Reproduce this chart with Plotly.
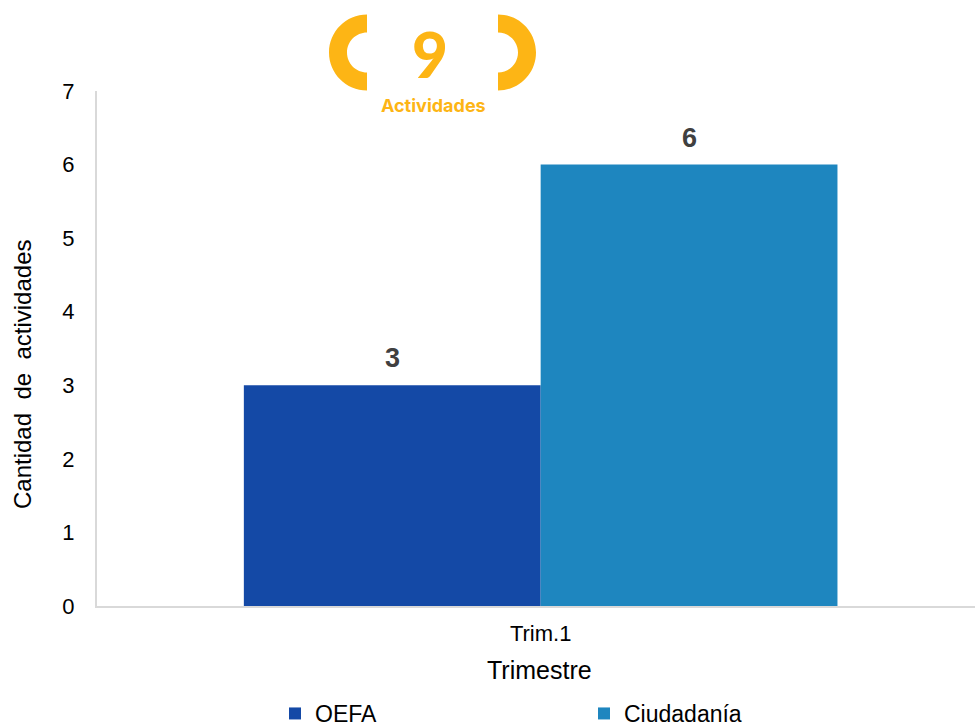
import plotly.graph_objects as go

W, H = 975, 726
L, R, T, B = 97, 975, 91, 606
BARGAP = 0.331

categories = ["Trim.1"]
series_names = ["OEFA", "Ciudadanía"]
oefa_values = [3]
ciudadania_values = [6]
bar_colors = ["#1449A6", "#1E86BF"]
total_label = "9"
total_caption = "Actividades"
x_title = "Trimestre"
y_title = "Cantidad  de  actividades"
ACCENT = "#FDB515"


def px(x):
    return (x - L) / (R - L)


def py(y):
    return (B - y) / (B - T)


def bracket(cx, cy, ro, ri, side):
    # half ring drawn with cubic Beziers, in paper coordinates
    k = 0.5523
    s = side
    def P(x, y):
        return f"{px(x):.5f},{py(y):.5f}"
    return (
        f"M {P(cx, cy - ro)} "
        f"C {P(cx + s*k*ro, cy - ro)} {P(cx + s*ro, cy - k*ro)} {P(cx + s*ro, cy)} "
        f"C {P(cx + s*ro, cy + k*ro)} {P(cx + s*k*ro, cy + ro)} {P(cx, cy + ro)} "
        f"L {P(cx, cy + ri)} "
        f"C {P(cx + s*k*ri, cy + ri)} {P(cx + s*ri, cy + k*ri)} {P(cx + s*ri, cy)} "
        f"C {P(cx + s*ri, cy - k*ri)} {P(cx + s*k*ri, cy - ri)} {P(cx, cy - ri)} Z"
    )


fig = go.Figure()
for name, vals, col in zip(series_names, [oefa_values, ciudadania_values], bar_colors):
    fig.add_bar(name=name, x=categories, y=vals, marker=dict(color=col, line_width=0))

# data labels sit well above the bars, further than a bar's own outside text
half_bar = (1 - BARGAP) / 4
value_labels = [
    dict(text=str(vals[0]), x=offset, y=vals[0], xref="x", yref="y",
         xanchor="center", yanchor="middle", yshift=27, showarrow=False,
         font=dict(family="Liberation Sans", size=27, color="#404040", weight="bold"))
    for vals, offset in zip([oefa_values, ciudadania_values], [-half_bar, half_bar])
]

axis_line = dict(showline=True, linecolor="#D9D9D9", linewidth=2, showgrid=False,
                 zeroline=False, ticks="",
                 tickfont=dict(family="Liberation Sans", size=22, color="#000000"))

fig.update_layout(
    width=W, height=H, autosize=False,
    margin=dict(l=L, r=W - R, t=T, b=H - B, pad=0),
    paper_bgcolor="white", plot_bgcolor="white",
    barmode="group", bargap=BARGAP, bargroupgap=0,
    showlegend=True,
    legend=dict(orientation="h", xref="container", yref="container",
                x=275 / W, xanchor="left", y=1 - 692 / H, yanchor="top",
                entrywidth=264, entrywidthmode="pixels", traceorder="normal",
                font=dict(family="Liberation Sans", size=23, color="#000000"),
                bgcolor="rgba(0,0,0,0)"),
    xaxis=dict(axis_line, type="category", range=[-0.5, 0.4895], ticklabelstandoff=7),
    yaxis=dict(axis_line, range=[0, 7], tickmode="linear", dtick=1, tick0=0, ticklabelstandoff=16),
    shapes=[
        dict(type="path", xref="paper", yref="paper", layer="above", line_width=0,
             fillcolor=ACCENT, path=bracket(367, 52.5, 38, 20, -1)),
        dict(type="path", xref="paper", yref="paper", layer="above", line_width=0,
             fillcolor=ACCENT, path=bracket(498, 52.5, 38, 20, 1)),
    ],
    annotations=value_labels + [
        dict(text=x_title, xref="paper", yref="paper", x=px(539.5), y=py(670),
             xanchor="center", yanchor="middle", showarrow=False,
             font=dict(family="Liberation Sans", size=25, color="#000000")),
        dict(text=y_title, xref="paper", yref="paper", x=px(22), y=py(374), textangle=-90,
             xanchor="center", yanchor="middle", showarrow=False,
             font=dict(family="Liberation Sans", size=24, color="#000000")),
        dict(text=total_label, xref="paper", yref="paper", x=px(430), y=py(54),
             xanchor="center", yanchor="middle", showarrow=False,
             font=dict(family="Lato", size=62, color=ACCENT, weight=900)),
        dict(text=total_caption, xref="paper", yref="paper", x=px(433), y=py(105),
             xanchor="center", yanchor="middle", showarrow=False,
             font=dict(family="Inter", size=18, color=ACCENT, weight="bold")),
    ],
)

fig.write_html("out.html", config={"displayModeBar": False},
               post_script="document.body.style.margin='0';")
